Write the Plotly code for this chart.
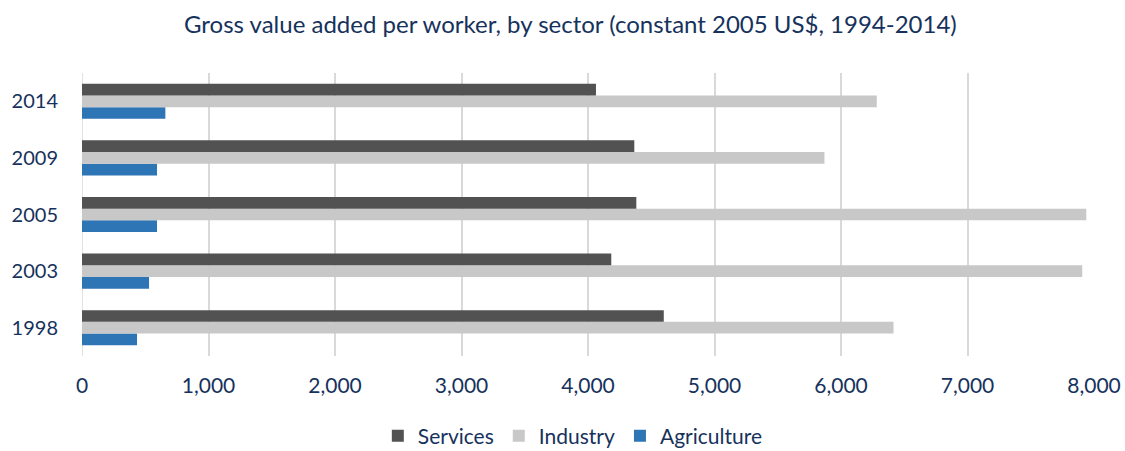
import plotly.graph_objects as go

years = ["1998", "2003", "2005", "2009", "2014"]
services = [4599, 4184, 4382, 4366, 4063]
industry = [6415, 7907, 7939, 5869, 6283]
agriculture = [435, 530, 593, 593, 659]

x_ticks = [0, 1000, 2000, 3000, 4000, 5000, 6000, 7000, 8000]
x_tick_labels = ["0", "1,000", "2,000", "3,000", "4,000", "5,000", "6,000", "7,000", "8,000"]

navy = "#16325c"
font_family = "Lato"

fig = go.Figure()
# trace order bottom-to-top within each group; legend ranked separately
series = [
    ("Agriculture", agriculture, "#2e75b6", 3),
    ("Industry", industry, "#c8c8c8", 2),
    ("Services", services, "#525252", 1),
]
for name, vals, color, rank in series:
    fig.add_trace(go.Bar(
        y=years, x=vals, name=name, orientation="h",
        marker=dict(color=color, line=dict(width=0)),
        legendrank=rank,
    ))

fig.update_layout(
    width=1125, height=451,
    barmode="group", bargap=0.38, bargroupgap=0,
    plot_bgcolor="white", paper_bgcolor="white",
    margin=dict(l=82, r=31, t=73, b=95, autoexpand=False),
    title=dict(
        text="Gross value added per worker, by sector (constant 2005 US$, 1994-2014)",
        x=0.507, xanchor="center", y=0.945, yanchor="middle",
        font=dict(family=font_family, size=24, color=navy),
    ),
    font=dict(family=font_family, color=navy),
    legend=dict(
        orientation="h", x=0.485, xanchor="center", y=-0.283, yanchor="middle",
        font=dict(size=21, color=navy), itemwidth=30, tracegroupgap=0,
    ),
    xaxis=dict(
        range=[0, 8000], tickvals=x_ticks, ticktext=x_tick_labels,
        showgrid=True, gridcolor="#d9d9d9", gridwidth=1.5,
        zeroline=False, showline=False, ticks="",
        tickfont=dict(size=21, color=navy), ticklabelstandoff=15,
    ),
    yaxis=dict(
        categoryorder="array", categoryarray=years,
        showgrid=False, zeroline=False, showline=False, ticks="",
        tickfont=dict(size=20, color=navy), ticklabelstandoff=23,
    ),
)
fig.add_vline(x=0, line=dict(color="#d9d9d9", width=1.5), layer="below")

fig.write_html("out.html")
